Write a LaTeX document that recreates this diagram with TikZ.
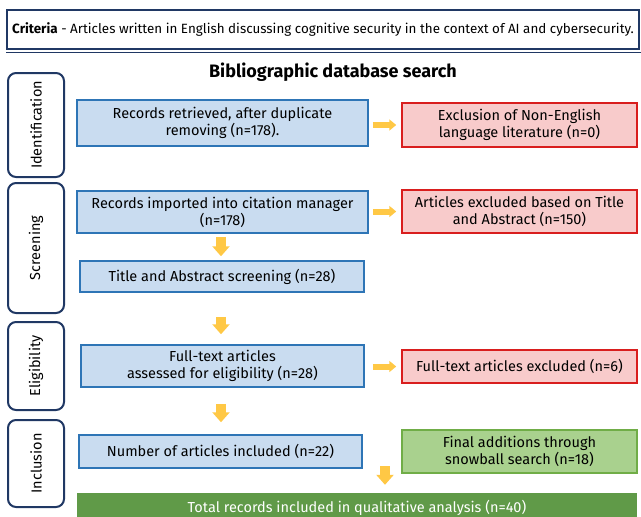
\documentclass[tikz,border=0pt]{standalone}
\usepackage{fontspec}
\setmainfont{Fira Sans}
\usepackage{tikz}
\usetikzlibrary{arrows.meta}

\definecolor{navy}{HTML}{203864}
\definecolor{boxblue}{HTML}{2E75B6}
\definecolor{fillblue}{HTML}{C9DCF0}
\definecolor{boxred}{HTML}{D91E1E}
\definecolor{fillred}{HTML}{F8CBCB}
\definecolor{boxgreen}{HTML}{70AD47}
\definecolor{fillgreen}{HTML}{A9D18E}
\definecolor{darkgreen}{HTML}{609A48}
\definecolor{arrowgold}{HTML}{FFC845}

\begin{document}
\begin{tikzpicture}[x=1pt,y=-1pt,
	stage/.style={draw=navy,line width=2pt,rounded corners=8pt,fill=white,minimum width=56pt,inner sep=0pt},
	record/.style={draw=boxblue,line width=1.5pt,fill=fillblue,align=center,inner sep=0pt,font=\fontsize{14.5}{17}\selectfont},
	excluded/.style={draw=boxred,line width=1.5pt,fill=fillred,align=center,inner sep=0pt,minimum width=235pt,font=\fontsize{14.5}{17}\selectfont},
	added/.style={draw=boxgreen,line width=1.5pt,fill=fillgreen,align=center,inner sep=0pt,minimum width=235pt,font=\fontsize{14.5}{17}\selectfont},
	rarrow/.style={draw=arrowgold,line width=6pt,-{Triangle[width=11pt,length=7pt]}},
	darrow/.style={draw=arrowgold,line width=10pt,-{Triangle[width=17pt,length=10pt]}}]
	\useasboundingbox (0,0) rectangle (641,517);

	\node[draw=navy,line width=1.2pt,minimum width=632pt,minimum height=39pt,inner sep=0pt,font=\fontsize{13.4}{16}\selectfont] (criteria) at (323, 29.5) {\textbf{Criteria} - Articles written in English discussing cognitive security in the context of AI and cybersecurity.};
	\draw[navy,line width=1.2pt] ([yshift=-3pt]criteria.south west) -- ([xshift=3pt,yshift=-3pt]criteria.south east);
	\node[font=\bfseries\fontsize{18}{22}\selectfont] (title) at (333, 72) {Bibliographic database search};

	\node[stage,minimum height=104pt] (ident) at (36, 125)   {\rotatebox{90}{\fontsize{14.5}{17}\selectfont Identification}};
	\node[stage,minimum height=130pt] (screen) at (36, 248)  {\rotatebox{90}{\fontsize{14.5}{17}\selectfont Screening}};
	\node[stage,minimum height=88pt] (elig) at (36, 366)     {\rotatebox{90}{\fontsize{14.5}{17}\selectfont Eligibility}};
	\node[stage,minimum height=87pt] (incl) at (36, 463.5)   {\rotatebox{90}{\fontsize{14.5}{17}\selectfont Inclusion}};

	\node[record,minimum width=291pt,minimum height=46pt] (retrieved) at (222.5, 123)  {Records retrieved, after duplicate\\removing (n=178).};
	\node[record,minimum width=291pt,minimum height=42pt] (imported) at (222.5, 212)   {Records imported into citation manager\\(n=178)};
	\node[record,minimum width=284pt,minimum height=31pt] (screening) at (222, 276.5)  {Title and Abstract screening (n=28)};
	\node[record,minimum width=283pt,minimum height=42pt] (fulltext) at (222.5, 366)   {Full-text articles\\assessed for eligibility (n=28)};
	\node[record,minimum width=283pt,minimum height=33pt] (included) at (220.5, 451.5) {Number of articles included (n=22)};

	\node[excluded,minimum height=44pt] (nonenglish) at (519.5, 125)  {Exclusion of Non-English\\language literature (n=0)};
	\node[excluded,minimum height=43pt] (abstract) at (519.5, 211.5)  {Articles excluded based on Title\\and Abstract (n=150)};
	\node[excluded,minimum height=33pt] (fullexcl) at (519.5, 366.5)  {Full-text articles excluded (n=6)};
	\node[added,minimum height=43pt] (snowball) at (519.5, 451.5)     {Final additions through\\snowball search (n=18)};

	\node[fill=darkgreen,text=white,minimum width=560pt,minimum height=30pt,inner sep=0pt,font=\fontsize{14.5}{17}\selectfont] (total) at (357, 508) {Total records included in qualitative analysis (n=40)};
	\coordinate (merge) at (385, 466);

	\draw[rarrow,shorten <=4pt,shorten >=5pt] (retrieved.east |- nonenglish.west) -- (nonenglish.west);
	\draw[rarrow,shorten <=4pt,shorten >=5pt] (imported.east |- abstract.west) -- (abstract.west);
	\draw[rarrow,shorten <=8pt,shorten >=5pt] (fulltext.east |- fullexcl.west) -- (fullexcl.west);
	\draw[darrow,shorten <=3pt,shorten >=4pt] ([xshift=-1.5pt]imported.south) -- ([xshift=-1.5pt]imported.south |- screening.north);
	\draw[darrow,shorten <=24pt,shorten >=10pt] ([xshift=-1pt]screening.south) -- ([xshift=-1pt]screening.south |- fulltext.north);
	\draw[darrow,shorten <=16pt,shorten >=12pt] ([xshift=-1.5pt]fulltext.south) -- ([xshift=-1.5pt]fulltext.south |- included.north);
	\draw[darrow,shorten >=8pt] (merge) -- (merge |- total.north);
\end{tikzpicture}
\end{document}
